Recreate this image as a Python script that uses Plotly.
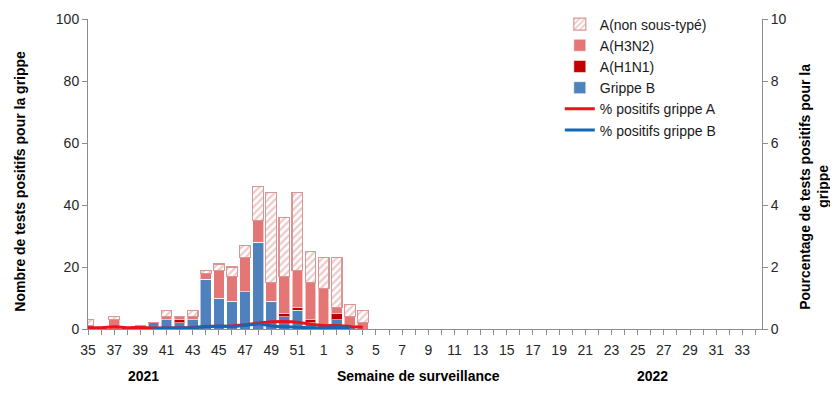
import plotly.graph_objects as go

# Week categories (2021 week 35 -> 2022 week 34)
weeks = [35, 36, 37, 38, 39, 40, 41, 42, 43, 44, 45, 46, 47, 48, 49, 50, 51, 52,
         1, 2, 3, 4, 5, 6, 7, 8, 9, 10, 11, 12, 13, 14, 15, 16, 17, 18, 19, 20,
         21, 22, 23, 24, 25, 26, 27, 28, 29, 30, 31, 32, 33, 34]

# Weeks with reported data (35 .. 52, 1 .. 4)
data_weeks = [35, 36, 37, 38, 39, 40, 41, 42, 43, 44, 45, 46, 47, 48, 49, 50, 51, 52, 1, 2, 3, 4]

grippe_b = [0, 0, 0, 0, 0, 2, 3, 2, 3, 16, 10, 9, 12, 28, 9, 4, 6, 2, 0, 3, 1, 0]
a_h1n1   = [0, 0, 0, 0, 1, 0, 0, 1, 0, 0, 0, 0, 0, 0, 0, 1, 1, 1, 1, 2, 0, 0]
a_h3n2   = [1, 0, 3, 0, 0, 0, 1, 1, 1, 2, 9, 8, 11, 7, 6, 12, 12, 12, 12, 2, 3, 2]
a_nst    = [2, 0, 1, 0, 0, 0, 2, 0, 2, 1, 2, 3, 4, 11, 29, 19, 25, 10, 10, 16, 4, 4]

pct_a = [0.05, 0.04, 0.07, 0.04, 0.05, 0.03, 0.03, 0.04, 0.05, 0.08, 0.09, 0.10,
         0.14, 0.19, 0.23, 0.24, 0.22, 0.15, 0.11, 0.11, 0.08, 0.06]
pct_b = [None, None, None, None, None, 0.01, 0.03, 0.03, 0.04, 0.08, 0.09, 0.08,
         0.11, 0.16, 0.10, 0.07, 0.06, 0.04, 0.03, 0.05, 0.04, None]

year_labels = ["2021", "2022"]

# category positions
pos = list(range(len(weeks)))
xdata = pos[:len(data_weeks)]
ticktext = [str(w) if i % 2 == 0 else "" for i, w in enumerate(weeks)]

FONT = "Liberation Sans, Arial, sans-serif"
AXIS_GREY = "#8c8c8c"
EDGE = "rgba(255,255,255,0.55)"

fig = go.Figure()

fig.add_trace(go.Bar(x=xdata, y=grippe_b, name="Grippe B",
                     marker=dict(color="#4F81BD", line=dict(color=EDGE, width=1)),
                     legendrank=4))
fig.add_trace(go.Bar(x=xdata, y=a_h1n1, name="A(H1N1)",
                     marker=dict(color="#C00000", line=dict(color=EDGE, width=1)),
                     legendrank=3))
fig.add_trace(go.Bar(x=xdata, y=a_h3n2, name="A(H3N2)",
                     marker=dict(color="#E47676", line=dict(color=EDGE, width=1)),
                     legendrank=2))
fig.add_trace(go.Bar(x=xdata, y=a_nst, name="A(non sous-typé)",
                     marker=dict(color="#ffffff", line=dict(color="#D99694", width=1.2),
                                 pattern=dict(shape="/", fgcolor="#D99694", bgcolor="#ffffff",
                                              size=5, solidity=0.45)),
                     legendrank=1))

fig.add_trace(go.Scatter(x=xdata, y=pct_a, name="% positifs grippe A", yaxis="y2",
                         mode="lines", line=dict(color="#E8141B", width=3, shape="spline"),
                         legendrank=5))
fig.add_trace(go.Scatter(x=xdata, y=pct_b, name="% positifs grippe B", yaxis="y2",
                         mode="lines", line=dict(color="#1268B3", width=3, shape="spline"),
                         legendrank=6))

ann_font = dict(size=14, color="#000")
fig.update_layout(
    width=830, height=385, autosize=False,
    margin=dict(l=80, r=76, t=11, b=64, pad=0, autoexpand=False),
    paper_bgcolor="white", plot_bgcolor="white",
    barmode="stack", bargap=0.18,
    font=dict(family=FONT, size=14, color="#262626"),
    showlegend=True,
    legend=dict(x=0.70, y=1.034, xanchor="left", yanchor="top",
                bgcolor="rgba(0,0,0,0)", font=dict(size=14, color="#1a1a1a"),
                traceorder="normal", itemwidth=30),
    xaxis=dict(range=[0, 51.5], tickmode="array", tickvals=pos, ticktext=ticktext,
               ticks="outside", ticklen=5, tickcolor=AXIS_GREY, tickangle=0,
               ticklabelstandoff=3,
               showline=True, linecolor=AXIS_GREY, linewidth=1, showgrid=False,
               zeroline=False, tickfont=dict(size=14)),
    yaxis=dict(range=[0, 100], tickvals=[0, 20, 40, 60, 80, 100],
               ticks="outside", ticklen=5, tickcolor=AXIS_GREY,
               showline=True, linecolor=AXIS_GREY, linewidth=1, showgrid=False,
               zeroline=False, tickfont=dict(size=14)),
    yaxis2=dict(range=[0, 10], tickvals=[0, 2, 4, 6, 8, 10], overlaying="y", side="right",
                ticks="outside", ticklen=5, tickcolor=AXIS_GREY,
                showline=True, linecolor=AXIS_GREY, linewidth=1, showgrid=False,
                zeroline=False, tickfont=dict(size=14)),
    annotations=[
        dict(text="<b>Nombre de tests positifs pour la grippe</b>", xref="paper", yref="paper",
             x=-0.1, y=0.477, xanchor="center", yanchor="middle",
             textangle=-90, showarrow=False, font=ann_font),
        dict(text="<b>Pourcentage de tests positifs pour la</b>", xref="paper", yref="paper",
             x=1.0645, y=0.46, xanchor="center", yanchor="middle",
             textangle=-90, showarrow=False, font=ann_font),
        dict(text="<b>grippe</b>", xref="paper", yref="paper",
             x=1.091, y=0.46, xanchor="center", yanchor="middle",
             textangle=-90, showarrow=False, font=ann_font),
        dict(text="<b>Semaine de surveillance</b>", xref="paper", yref="paper",
             x=0.49, y=-0.152, xanchor="center", yanchor="middle", showarrow=False, font=ann_font),
        dict(text="<b>" + year_labels[0] + "</b>", xref="paper", yref="paper",
             x=0.083, y=-0.152, xanchor="center", yanchor="middle", showarrow=False, font=ann_font),
        dict(text="<b>" + year_labels[1] + "</b>", xref="paper", yref="paper",
             x=0.837, y=-0.152, xanchor="center", yanchor="middle", showarrow=False, font=ann_font),
    ],
)

fig.write_html("out.html")
